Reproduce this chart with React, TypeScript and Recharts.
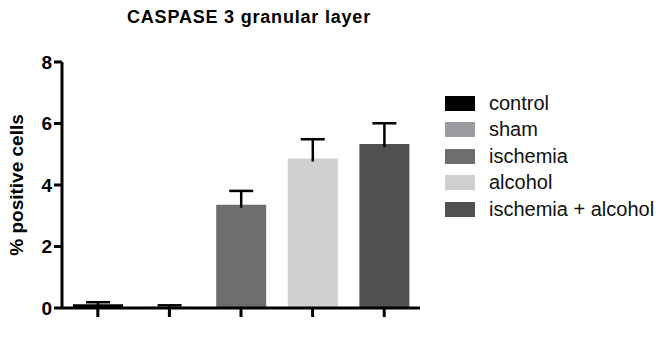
import React from 'react';
import { BarChart, Bar, XAxis, YAxis, Cell } from 'recharts';

const categories = ['control', 'sham', 'ischemia', 'alcohol', 'ischemia + alcohol'];
const values = [0.12, 0.04, 3.36, 4.86, 5.33];
const errors = [0.1, 0.08, 0.48, 0.66, 0.71];
const colors = ['#000000', '#9c9ca0', '#6e6e6e', '#cfcfcf', '#505050'];
const yTicks = [0, 2, 4, 6, 8];

const data = categories.map((c, i) => ({ name: c, value: values[i], err: errors[i] }));

const FONT = 'Liberation Sans, Arial, sans-serif';

const ErrShape = (props: any) => {
  const { x, y, width, height } = props;
  const cx = x + width / 2;
  return (
    <g>
      <line x1={cx} x2={cx} y1={y} y2={y + height + 3} stroke="#000" strokeWidth={2.5} />
      <line x1={cx - 12} x2={cx + 12} y1={y + 1} y2={y + 1} stroke="#000" strokeWidth={2.5} />
    </g>
  );
};

export default function App() {
  return (
    <div style={{ position: 'absolute', left: 0, top: 0, width: 660, height: 338, background: '#fff' }}>
      <BarChart
        width={660}
        height={338}
        data={data}
        margin={{ top: 62, right: 240, bottom: 0, left: 0 }}
        barSize={50}
      >
        <text x={249} y={23} textAnchor="middle" fontFamily={FONT} fontWeight="bold" fontSize={18} letterSpacing={0.8} fill="#000">
          CASPASE 3 granular layer
        </text>
        <text
          x={0}
          y={0}
          transform="translate(23,185) rotate(-90)"
          textAnchor="middle"
          fontFamily={FONT}
          fontWeight="bold"
          fontSize={19}
          fill="#000"
        >
          % positive cells
        </text>
        <XAxis
          dataKey="name"
          height={30}
          tickFormatter={() => ''}
          tickSize={9}
          axisLine={{ stroke: '#000', strokeWidth: 3 }}
          tickLine={{ stroke: '#000', strokeWidth: 3 }}
        />
        <YAxis
          width={62}
          domain={[0, 8]}
          ticks={yTicks}
          interval={0}
          tickSize={8}
          tickMargin={2}
          axisLine={{ stroke: '#000', strokeWidth: 3 }}
          tickLine={{ stroke: '#000', strokeWidth: 3 }}
          tick={{ fill: '#000', fontFamily: FONT, fontWeight: 'bold', fontSize: 19 }}
        />
        <Bar dataKey="value" stackId="a" isAnimationActive={false}>
          {data.map((d, i) => (
            <Cell key={d.name} fill={colors[i]} />
          ))}
        </Bar>
        <Bar dataKey="err" stackId="a" isAnimationActive={false} shape={<ErrShape />} />
      </BarChart>
      <div style={{ position: 'absolute', left: 445, top: 90, fontFamily: FONT, fontSize: 20, color: '#111' }}>
        {categories.map((c, i) => (
          <div key={c} style={{ display: 'flex', alignItems: 'center', height: 26.5, whiteSpace: 'nowrap' }}>
            <div style={{ width: 30, height: 15, background: colors[i], marginRight: 14 }} />
            <span>{c}</span>
          </div>
        ))}
      </div>
    </div>
  );
}
